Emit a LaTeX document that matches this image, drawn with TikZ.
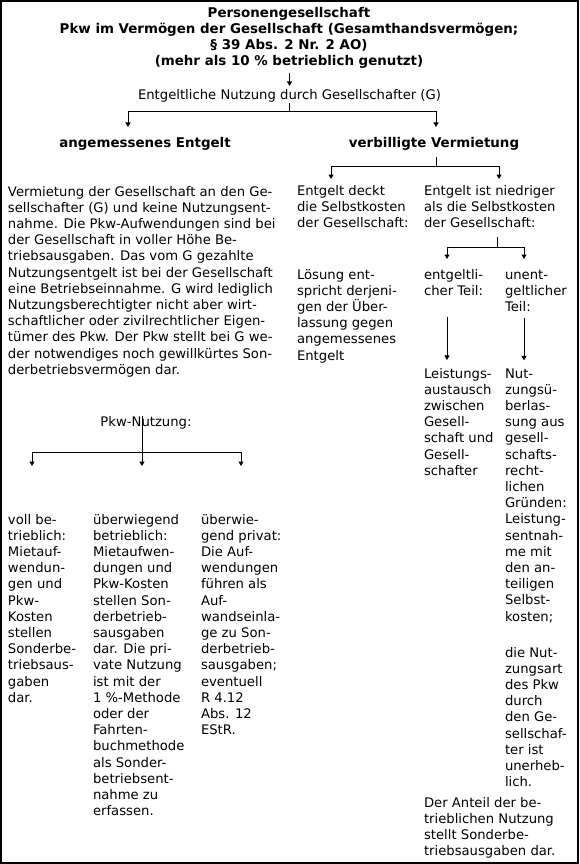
\documentclass[tikz,border=0pt]{standalone}
\usepackage{fontspec}
\setmainfont{DejaVu Sans}
\usetikzlibrary{arrows.meta}
\begin{document}
\begin{tikzpicture}[x=1pt, y=-1pt,
  every node/.style={inner sep=0pt, outer sep=0pt},
  txt/.style={font=\fontsize{13.2}{16.2}\selectfont, align=left, anchor=base west},
  bld/.style={font=\bfseries\fontsize{13.4}{16}\selectfont, align=center, anchor=base},
  arr/.style={-{Triangle[width=5pt,length=4.5pt]}, line width=1pt},
  lin/.style={line width=1pt}]
\useasboundingbox (0,0) rectangle (579,864);
\draw[line width=2pt] (1,1) rectangle (578,863);
% Kopf (base = letzte Zeile)
\node[bld] (tit) at (289,66) {Personengesellschaft\\Pkw im Vermögen der Gesellschaft (Gesamthandsvermögen;\\§ 39 Abs. 2 Nr. 2 AO)\\(mehr als 10 \% betrieblich genutzt)};
\node[txt, anchor=base] (nutz) at (289.5,100) {Entgeltliche Nutzung durch Gesellschafter (G)};
\draw[arr, shorten <=4pt, shorten >=4pt] (tit.south -| nutz) -- (nutz.north);
\node[bld] (ang) at (145,147) {angemessenes Entgelt};
\node[bld] (verb) at (434,147) {verbilligte Vermietung};
\coordinate (j1) at (289,112);
\coordinate (a1) at (128,127);
\coordinate (a2) at (436,127);
\draw[lin] (nutz.south -| j1) -- (j1);
\draw[arr] (j1) -| (a1);
\draw[arr] (j1) -| (a2);
% angemessenes Entgelt
\node[txt] (lb) at (8,374.2) {Vermietung der Gesellschaft an den Ge-\\sellschafter (G) und keine Nutzungsent-\\nahme. Die Pkw-Aufwendungen sind bei\\der Gesellschaft in voller Höhe Be-\\triebsausgaben. Das vom G gezahlte\\Nutzungsentgelt ist bei der Gesellschaft\\eine Betriebseinnahme. G wird lediglich\\Nutzungsberechtigter nicht aber wirt-\\schaftlicher oder zivilrechtlicher Eigen-\\tümer des Pkw. Der Pkw stellt bei G we-\\der notwendiges noch gewillkürtes Son-\\derbetriebsvermögen dar.};
\node[txt, anchor=base] (pk) at (146,426) {Pkw-Nutzung:};
\coordinate (j4) at (142,452);
\coordinate (p1) at (32,466);
\coordinate (p2) at (142,466);
\coordinate (p3) at (241,466);
\draw[arr] ([yshift=13pt]pk.south -| j4) -- (p2);
\draw[arr] (j4) -| (p1);
\draw[arr] (j4) -| (p3);
\node[txt] (vb) at (8,702.2) {voll be-\\trieblich:\\Mietauf-\\wendun-\\gen und\\Pkw-\\Kosten\\stellen\\Sonderbe-\\triebsaus-\\gaben\\dar.};
\node[txt] (ub) at (93,815.6) {überwiegend\\betrieblich:\\Mietaufwen-\\dungen und\\Pkw-Kosten\\stellen Son-\\derbetrieb-\\sausgaben\\dar. Die pri-\\vate Nutzung\\ist mit der\\1 \%-Methode\\oder der\\Fahrten-\\buchmethode\\als Sonder-\\betriebsent-\\nahme zu\\erfassen.};
\node[txt] (up) at (201,734.6) {überwie-\\gend privat:\\Die Auf-\\wendungen\\führen als\\Auf-\\wandseinla-\\ge zu Son-\\derbetrieb-\\sausgaben;\\eventuell\\R 4.12\\Abs. 12\\EStR.};
% verbilligte Vermietung
\coordinate (j2) at (436,166);
\coordinate (b1) at (331,179);
\coordinate (b2) at (499,179);
\draw[lin, shorten <=7pt] (verb.south -| j2) -- (j2);
\draw[arr] (j2) -| (b1);
\draw[arr] (j2) -| (b2);
\node[txt] (dk) at (297,227.4) {Entgelt deckt\\die Selbstkosten\\der Gesellschaft:};
\node[txt] (nd) at (424,227.4) {Entgelt ist niedriger\\als die Selbstkosten\\der Gesellschaft:};
\node[txt] (ls) at (297,360) {Lösung ent-\\spricht derjeni-\\gen der Über-\\lassung gegen\\angemessenes\\Entgelt};
\coordinate (j3) at (497,247);
\coordinate (c1) at (447,259);
\coordinate (c2) at (524,259);
\draw[lin, shorten <=9.5pt] (nd.south -| j3) -- (j3);
\draw[arr] (j3) -| (c1);
\draw[arr] (j3) -| (c2);
\node[txt] (eg) at (424,295.2) {entgeltli-\\cher Teil:};
\node[txt] (ug) at (505,311.4) {unent-\\geltlicher\\Teil:};
\node[txt] (la) at (424,475.2) {Leistungs-\\austausch\\zwischen\\Gesell-\\schaft und\\Gesell-\\schafter};
\node[txt] (nu) at (505,621) {Nut-\\zungsü-\\berlas-\\sung aus\\gesell-\\schafts-\\recht-\\lichen\\Gründen:\\Leistung-\\sentnah-\\me mit\\den an-\\teiligen\\Selbst-\\kosten;};
\draw[arr, shorten <=22pt, shorten >=8pt] (c1 |- eg.south) -- (c1 |- la.north);
\draw[arr, shorten <=6pt, shorten >=8pt] (c2 |- ug.south) -- (c2 |- nu.north);
\node[txt] (dn) at (505,786.6) {die Nut-\\zungsart\\des Pkw\\durch\\den Ge-\\sellschaf-\\ter ist\\unerheb-\\lich.};
\node[txt] (da) at (424,855.6) {Der Anteil der be-\\trieblichen Nutzung\\stellt Sonderbe-\\triebsausgaben dar.};
\end{tikzpicture}
\end{document}
